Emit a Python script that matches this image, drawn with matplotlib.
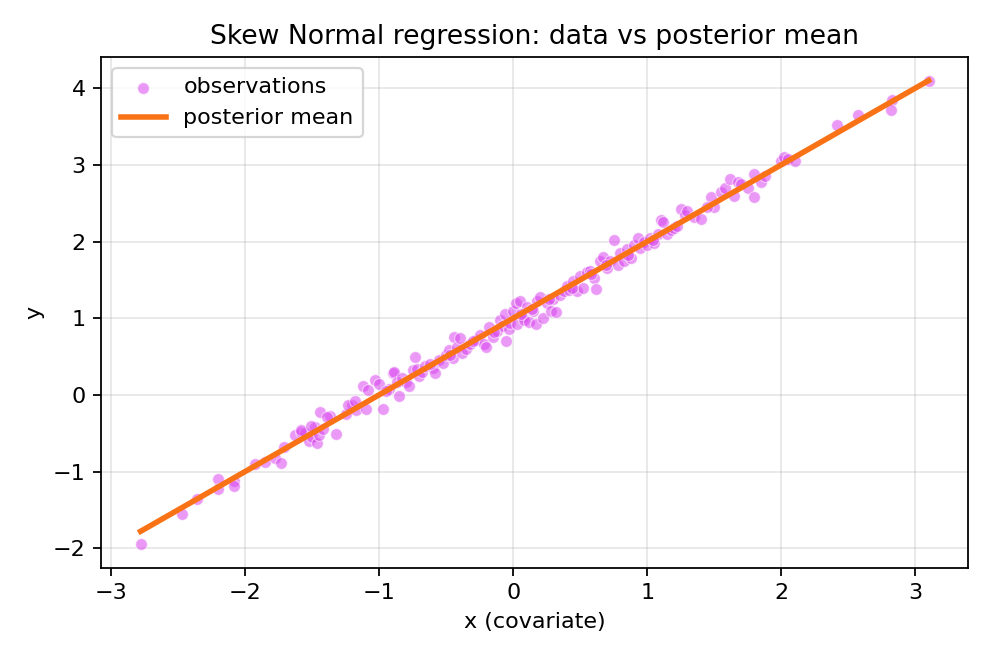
import matplotlib
matplotlib.use("Agg")
import matplotlib.pyplot as plt
import numpy as np

x_obs = [-2.78, -2.47, -2.36, -2.20, -2.20, -2.08, -2.08, -1.93, -1.85, -1.78,
         -1.73, -1.71, -1.63, -1.58, -1.55, -1.52, -1.50, -1.48, -1.46, -1.45,
         -1.44, -1.42, -1.37, -1.32, -1.25, -1.20, -1.17, -1.12, -1.10, -1.08,
         -1.03, -1.00, -0.97, -0.93, -0.90, -0.89, -0.87, -0.85, -0.83, -0.80,
         -0.78, -0.75, -0.73, -0.72, -0.70, -0.68, -0.66, -0.60, -0.58, -0.55,
         -0.52, -0.50, -0.48, -0.45, -0.44, -0.42, -0.40, -0.38, -0.35, -0.32,
         -0.28, -0.25, -0.22, -0.20, -0.18, -0.15, -0.12, -0.10, -0.08, -0.06,
         -0.05, -0.03, -0.02, 0.00, 0.02, 0.03, 0.05, 0.07, 0.08, 0.10,
         0.12, 0.15, 0.17, 0.18, 0.20, 0.22, 0.25, 0.28, 0.30, 0.32,
         0.35, 0.38, 0.40, 0.42, 0.45, 0.48, 0.50, 0.52, 0.55, 0.57,
         0.60, 0.62, 0.65, 0.67, 0.70, 0.72, 0.75, 0.78, 0.80, 0.83,
         0.85, 0.88, 0.90, 0.93, 0.95, 0.98, 1.00, 1.02, 1.05, 1.08,
         1.10, 1.12, 1.15, 1.18, 1.20, 1.25, 1.28, 1.30, 1.35, 1.40,
         1.48, 1.50, 1.55, 1.58, 1.62, 1.65, 1.68, 1.70, 1.75, 1.80,
         1.80, 1.85, 1.88, 2.00, 2.02, 2.05, 2.10, 2.42, 2.57, 2.83,
         2.82, 3.10,
         -1.58, -1.51, -1.39, -1.23, -1.18, -0.95, -0.62, -0.47, -0.30, -0.14,
         0.06, 0.14, 0.27, 0.44, 0.58, 0.69, 0.86, 1.04, 1.22, 1.45]
y_obs = [-1.95, -1.55, -1.36, -1.10, -1.23, -1.13, -1.19, -0.90, -0.88, -0.82,
         -0.89, -0.68, -0.52, -0.48, -0.50, -0.60, -0.55, -0.42, -0.63, -0.52,
         -0.22, -0.45, -0.28, -0.51, -0.25, -0.13, -0.20, 0.12, -0.18, 0.06,
         0.20, 0.14, -0.18, 0.08, 0.28, 0.30, 0.17, -0.02, 0.22, 0.17,
         0.12, 0.32, 0.50, 0.34, 0.24, 0.30, 0.38, 0.35, 0.28, 0.45,
         0.42, 0.52, 0.58, 0.48, 0.75, 0.62, 0.74, 0.55, 0.60, 0.66,
         0.72, 0.78, 0.66, 0.62, 0.88, 0.75, 0.83, 0.98, 0.90, 1.05,
         0.70, 0.86, 0.94, 1.10, 1.20, 0.92, 1.22, 1.02, 0.98, 1.15,
         0.95, 1.10, 0.92, 1.22, 1.28, 1.00, 1.20, 1.10, 1.25, 1.08,
         1.30, 1.35, 1.42, 1.37, 1.48, 1.35, 1.55, 1.40, 1.60, 1.62,
         1.52, 1.38, 1.74, 1.80, 1.65, 1.75, 2.02, 1.70, 1.85, 1.75,
         1.90, 1.78, 1.95, 2.05, 1.92, 2.00, 1.95, 2.05, 1.98, 2.10,
         2.28, 2.25, 2.10, 2.15, 2.18, 2.42, 2.35, 2.40, 2.32, 2.30,
         2.58, 2.45, 2.65, 2.70, 2.82, 2.60, 2.78, 2.75, 2.70, 2.58,
         2.88, 2.78, 2.85, 3.05, 3.10, 3.08, 3.05, 3.52, 3.65, 3.85,
         3.72, 4.10,
         -0.46, -0.41, -0.29, -0.13, -0.08, 0.05, 0.40, 0.52, 0.70, 0.82,
         1.05, 1.12, 1.25, 1.40, 1.58, 1.70, 1.82, 2.02, 2.20, 2.45]

posterior_intercept = 1.0
posterior_slope = 1.0

fig, ax = plt.subplots(figsize=(6.2, 4.1), dpi=160)
ax.scatter(x_obs, y_obs, s=28, color="#d946ef", alpha=0.55,
           edgecolor="white", linewidth=0.5, label="observations", zorder=2)
xs = np.linspace(min(x_obs), max(x_obs), 100)
ax.plot(xs, posterior_intercept + posterior_slope * xs, color="#f97316",
        lw=2.5, label="posterior mean", zorder=3)
ax.set_title("Skew Normal regression: data vs posterior mean", fontsize=12)
ax.set_xlabel("x (covariate)")
ax.set_ylabel("y")
ax.grid(True, alpha=0.3)
ax.legend(loc="upper left")
fig.tight_layout()
fig.savefig("out.png", dpi=160)
